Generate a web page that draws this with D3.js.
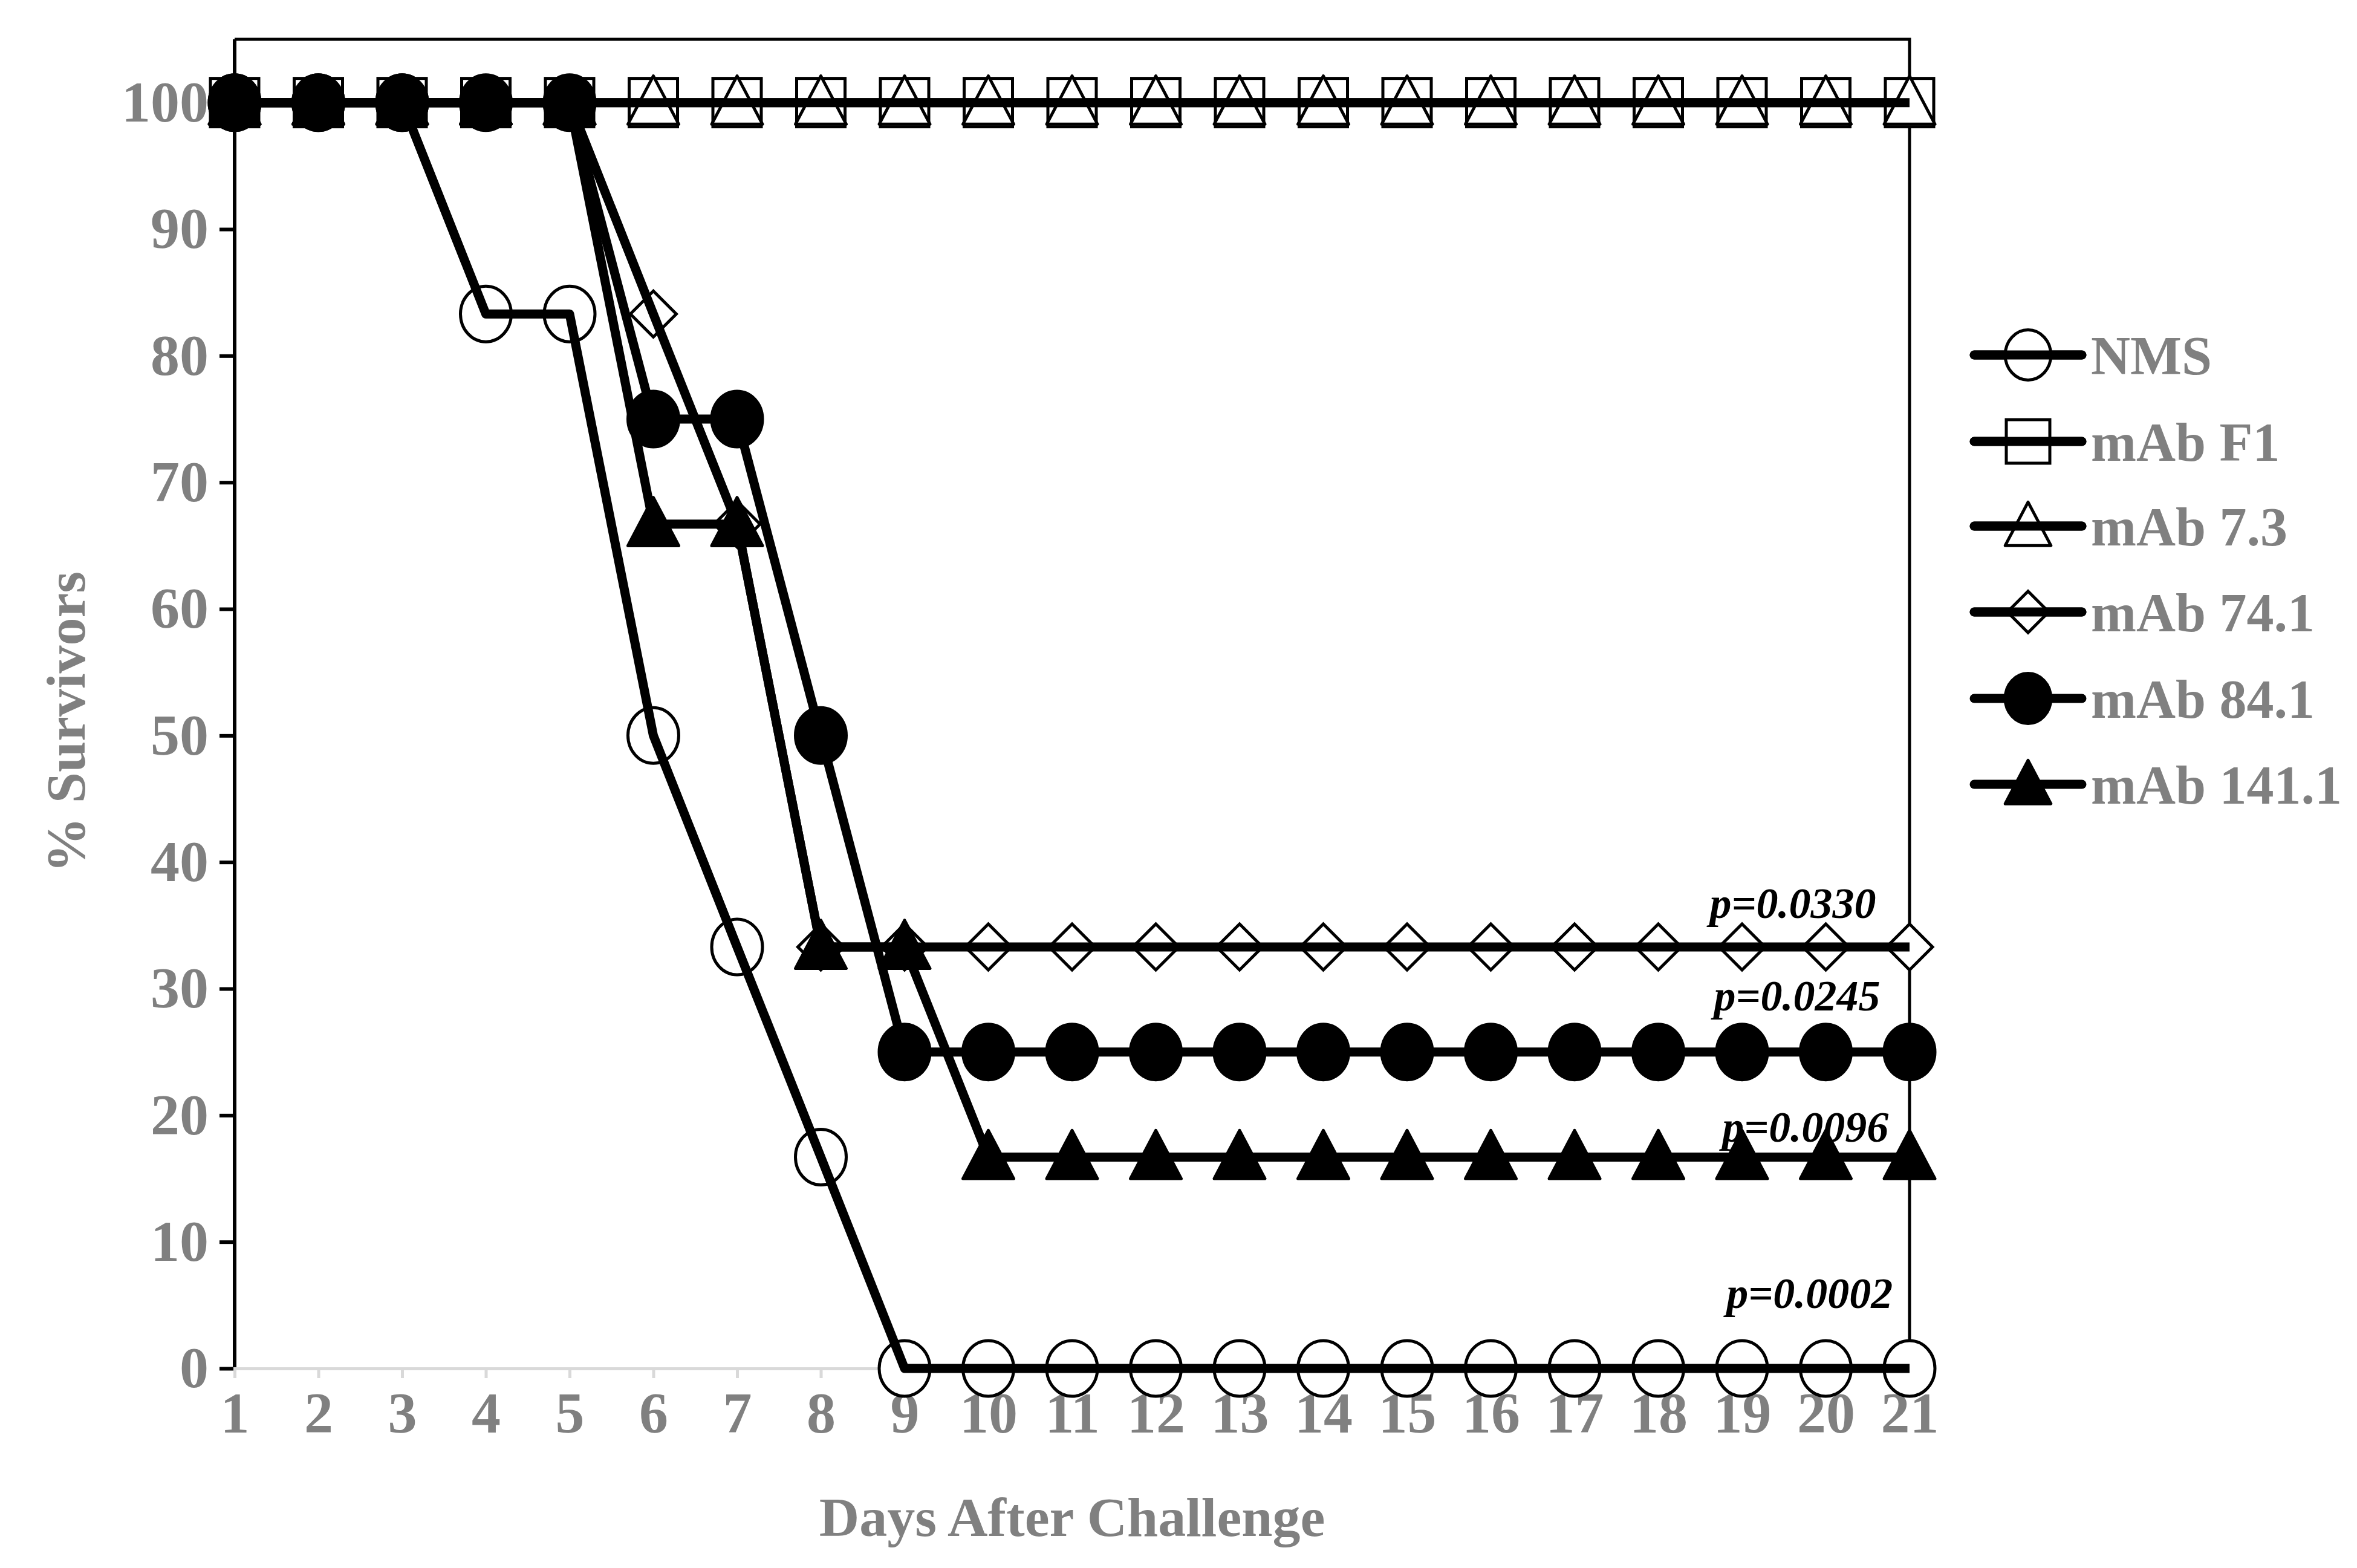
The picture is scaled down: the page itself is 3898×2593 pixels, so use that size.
<!DOCTYPE html>
<html>
<head>
<meta charset="utf-8">
<script src="https://cdn.jsdelivr.net/npm/d3@7"></script>
<style>body{margin:0;background:#fff}</style>
</head>
<body>
<script>
const days = d3.range(1, 22);
const seriesNames = ["NMS", "mAb F1", "mAb 7.3", "mAb 74.1", "mAb 84.1", "mAb 141.1"];
const nms   = [100,100,100,83.3,83.3,50,33.3,16.7,0,0,0,0,0,0,0,0,0,0,0,0,0];
const mabF1 = [100,100,100,100,100,100,100,100,100,100,100,100,100,100,100,100,100,100,100,100,100];
const mab73 = [100,100,100,100,100,100,100,100,100,100,100,100,100,100,100,100,100,100,100,100,100];
const mab741 = [100,100,100,100,100,83.3,66.7,33.3,33.3,33.3,33.3,33.3,33.3,33.3,33.3,33.3,33.3,33.3,33.3,33.3,33.3];
const mab841 = [100,100,100,100,100,75,75,50,25,25,25,25,25,25,25,25,25,25,25,25,25];
const mab1411 = [100,100,100,100,100,66.7,66.7,33.3,33.3,16.7,16.7,16.7,16.7,16.7,16.7,16.7,16.7,16.7,16.7,16.7,16.7];
const markers = ["circle-open", "square-open", "triangle-open", "diamond-open", "circle-filled", "triangle-filled"];
const pLabels = ["p=0.0330", "p=0.0245", "p=0.0096", "p=0.0002"];
const pDay = [20.6, 20.65, 20.75, 20.8];
const pValue = [35.6, 28.3, 17.9, 4.8];
const yTicks = d3.range(0, 101, 10);

const series = [nms, mabF1, mab73, mab741, mab841, mab1411];
const W = 3898, H = 2593;
const mLeft = 388, mRight = 3158, mTop = 65, mBottom = 2263;

const svg = d3.select("body").append("svg").attr("width", W).attr("height", H);
const x = d3.scaleLinear().domain([1, 21]).range([mLeft, mRight]);
const y = d3.scaleLinear().domain([0, 105]).range([mBottom, mTop]);
const gray = "#808080";
const font = "'Liberation Serif', 'Times New Roman', serif";

// box top/right
svg.append("path")
  .attr("d", `M${mLeft},${mTop}H${mRight}V${mBottom}`)
  .attr("fill", "none").attr("stroke", "#000").attr("stroke-width", 5);

// y axis
const yAxis = svg.append("g").attr("transform", `translate(${mLeft},0)`)
  .call(d3.axisLeft(y).tickValues(yTicks).tickSize(25).tickPadding(18));
yAxis.select(".domain").attr("stroke-width", 6).attr("d", `M0,${mTop}V${mBottom}`);
yAxis.selectAll(".tick line").attr("stroke-width", 6);
yAxis.selectAll("text").attr("fill", gray).style("font", `bold 96px ${font}`);

// x axis
const xAxis = svg.append("g").attr("transform", `translate(0,${mBottom})`)
  .call(d3.axisBottom(x).tickValues(days).tickSize(16).tickPadding(22));
xAxis.select(".domain").attr("stroke", "#d9d9d9").attr("stroke-width", 5);
xAxis.selectAll(".tick line").attr("stroke", "#d9d9d9").attr("stroke-width", 5);
xAxis.selectAll("text").attr("fill", gray).style("font", `bold 96px ${font}`);

svg.append("text").attr("x", (mLeft + mRight) / 2).attr("y", 2540)
  .attr("text-anchor", "middle").attr("fill", gray)
  .style("font", `bold 92px ${font}`).text("Days After Challenge");
svg.append("text").attr("transform", `translate(140,${(mTop + mBottom) / 2 + 30}) rotate(-90)`)
  .attr("text-anchor", "middle").attr("fill", gray)
  .style("font", `bold 92px ${font}`).text("% Survivors");

function drawMarker(g, type, scale) {
  const s = scale || 1;
  const sw = 5;
  if (type.startsWith("circle")) {
    g.append("ellipse").attr("rx", 42 * s).attr("ry", 46 * s)
      .attr("fill", type.endsWith("filled") ? "#000" : "#fff")
      .attr("stroke", "#000").attr("stroke-width", sw);
  } else if (type.startsWith("square")) {
    g.append("rect").attr("x", -40 * s).attr("y", -40 * s).attr("width", 80 * s).attr("height", 80 * s)
      .attr("fill", "#fff").attr("stroke", "#000").attr("stroke-width", sw);
  } else if (type.startsWith("triangle")) {
    const a = 42 * s;
    g.append("path").attr("d", `M0,${-a * 1.05}L${a},${a * 0.85}H${-a}Z`)
      .attr("fill", type.endsWith("filled") ? "#000" : "#fff")
      .attr("stroke", "#000").attr("stroke-width", sw).attr("stroke-linejoin", "round");
  } else {
    const a = 38 * s;
    g.append("path").attr("d", `M0,${-a}L${a},0L0,${a}L${-a},0Z`)
      .attr("fill", "#fff").attr("stroke", "#000").attr("stroke-width", sw);
  }
}

const line = d3.line().x((d, i) => x(days[i])).y(d => y(d));
series.forEach((vals, si) => {
  const g = svg.append("g");
  vals.forEach((v, i) => {
    const m = g.append("g").attr("transform", `translate(${x(days[i])},${y(v)})`);
    drawMarker(m, markers[si]);
  });
  g.append("path").datum(vals).attr("d", line)
    .attr("fill", "none").attr("stroke", "#000").attr("stroke-width", 15)
    .attr("stroke-linejoin", "round");
});

// p-value annotations
pLabels.forEach((t, i) => {
  svg.append("text").attr("x", x(pDay[i])).attr("y", y(pValue[i]))
    .attr("text-anchor", "end").attr("fill", "#000")
    .style("font", `italic bold 72px ${font}`).text(t);
});

// legend
const legendRows = [587, 730, 870, 1012, 1155, 1297];
seriesNames.forEach((name, i) => {
  const g = svg.append("g").attr("transform", `translate(0,${legendRows[i]})`);
  g.append("line").attr("x1", 3265).attr("x2", 3443)
    .attr("stroke", "#000").attr("stroke-width", 15).attr("stroke-linecap", "round");
  const m = g.append("g").attr("transform", "translate(3354,0)");
  drawMarker(m, markers[i], 0.9);
  if (markers[i] !== "circle-filled" && markers[i] !== "triangle-filled") {
    g.append("line").attr("x1", 3265).attr("x2", 3443)
      .attr("stroke", "#000").attr("stroke-width", 15).attr("stroke-linecap", "round");
  }
  g.append("text").attr("x", 3458).attr("y", 32).attr("fill", gray)
    .style("font", `bold 90px ${font}`).text(name);
});
</script>
</body>
</html>
